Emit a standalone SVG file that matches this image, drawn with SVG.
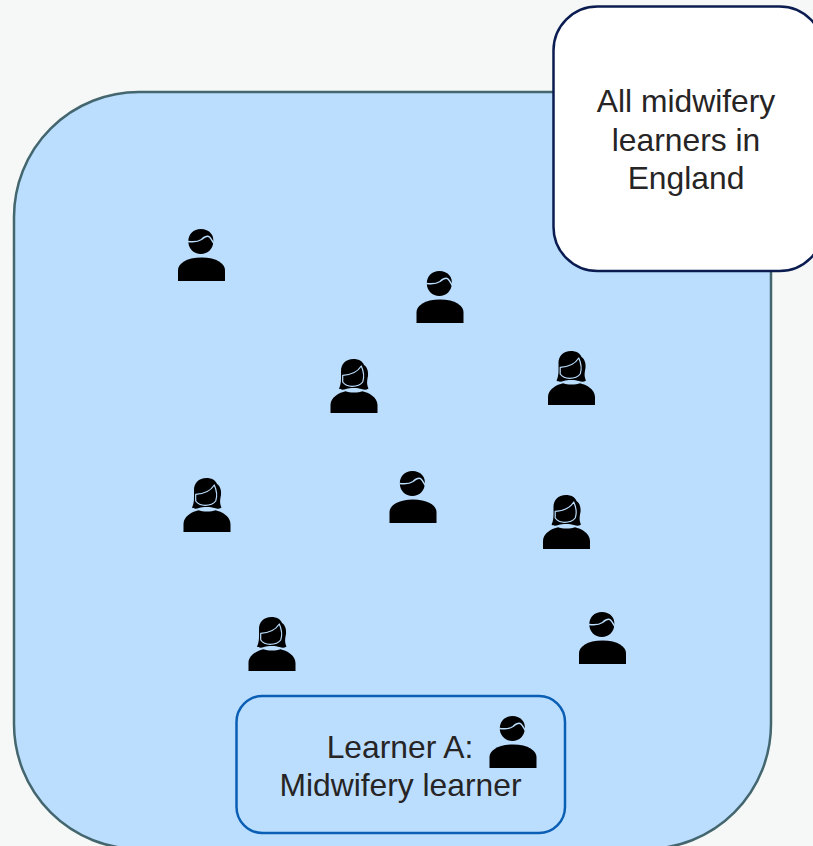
<svg xmlns="http://www.w3.org/2000/svg" xmlns:xlink="http://www.w3.org/1999/xlink" width="813" height="846" viewBox="0 0 813 846">
<style>
.lbl{font-family:"Liberation Sans",Arial,sans-serif;font-size:31.8px;fill:#262424;text-anchor:middle}
.cut{fill:none;stroke:#bbdefe;stroke-linejoin:round}
.ink{fill:#000}
</style>
<defs>
<g id="man">
<path class="ink" d="M10.300-39.500C10.300-47 15.500-52 22.800-52C27-52 31-50.500 33-47.500C35-45.500 35.500-42 35.300-39.500C35.300-32.500 29.800-27 22.800-27C15.800-27 10.300-32.500 10.300-39.500Z"/>
<path class="ink" d="M0 0V-11C0-17 8-23.500 23.500-23.500C39-23.500 47-17 47-11V0Z"/>
<path class="cut" stroke-width="1.500" d="M9.800-39.500C15-38.800 20-39 23.500-41.500C27-44.500 29.500-45.500 31.500-44C33.500-42 34.500-39.500 36-37.500"/>
</g>
<g id="woman">
<path class="ink" d="M23-54C15-54 10.500-49 10.500-42C10.500-35 11-29 8.500-24.500C10-23 13-23 15.500-24C18-25 20-25 23-25C27-25 29-24.500 31-24C33.500-23 36-23 38-24.500C36-29 36.500-32 37.500-37C38-42 36.500-46 33.500-48C32-52 28-54 23-54Z"/>
<path class="ink" d="M0 0V-8C0-16 9-20.500 15-21.800C19-20 28-20 32-21.800C38-20.500 47-16 47-8V0Z"/>
<path class="cut" stroke-width="1.200" d="M12.200-37.700C20-38 27-41 30.800-47C33-42 34-36 32.200-31C30-28 26-26.700 21.500-26.700C17-26.700 14-28.500 12.200-31Z"/>
</g>
</defs>
<rect width="813" height="846" fill="#f5f8f7"/>
<g id="population">
<rect x="14" y="92" width="757" height="757" rx="125" fill="#bbdefe" stroke="#44666e" stroke-width="2.500"/>
</g>
<g id="all-learners-label">
<rect x="553.500" y="6.500" width="270" height="264.500" rx="44" fill="#fff" stroke="#0b1c50" stroke-width="2.500"/>
<text class="lbl" x="686" y="112">All midwifery</text>
<text class="lbl" x="686" y="151">learners in</text>
<text class="lbl" x="686" y="189">England</text>
</g>
<g id="learner-1"><use xlink:href="#man" href="#man" x="178" y="281"/></g>
<g id="learner-2"><use xlink:href="#man" href="#man" x="416.500" y="323"/></g>
<g id="learner-3"><use xlink:href="#woman" href="#woman" x="330.500" y="413"/></g>
<g id="learner-4"><use xlink:href="#woman" href="#woman" x="548" y="405"/></g>
<g id="learner-5"><use xlink:href="#woman" href="#woman" x="183.500" y="532"/></g>
<g id="learner-6"><use xlink:href="#man" href="#man" x="389.500" y="523"/></g>
<g id="learner-7"><use xlink:href="#woman" href="#woman" x="543" y="549"/></g>
<g id="learner-8"><use xlink:href="#woman" href="#woman" x="248.500" y="671"/></g>
<g id="learner-9"><use xlink:href="#man" href="#man" x="579" y="664"/></g>
<g id="learner-a">
<rect x="236.500" y="696" width="328.500" height="137" rx="26" fill="#bbdefe" stroke="#0a5fb5" stroke-width="2.500"/>
<text class="lbl" x="400" y="758">Learner A:</text>
<text class="lbl" x="400.500" y="796">Midwifery learner</text>
<use xlink:href="#man" href="#man" x="489.500" y="768"/>
</g>
<g id="connectors"/>
</svg>
